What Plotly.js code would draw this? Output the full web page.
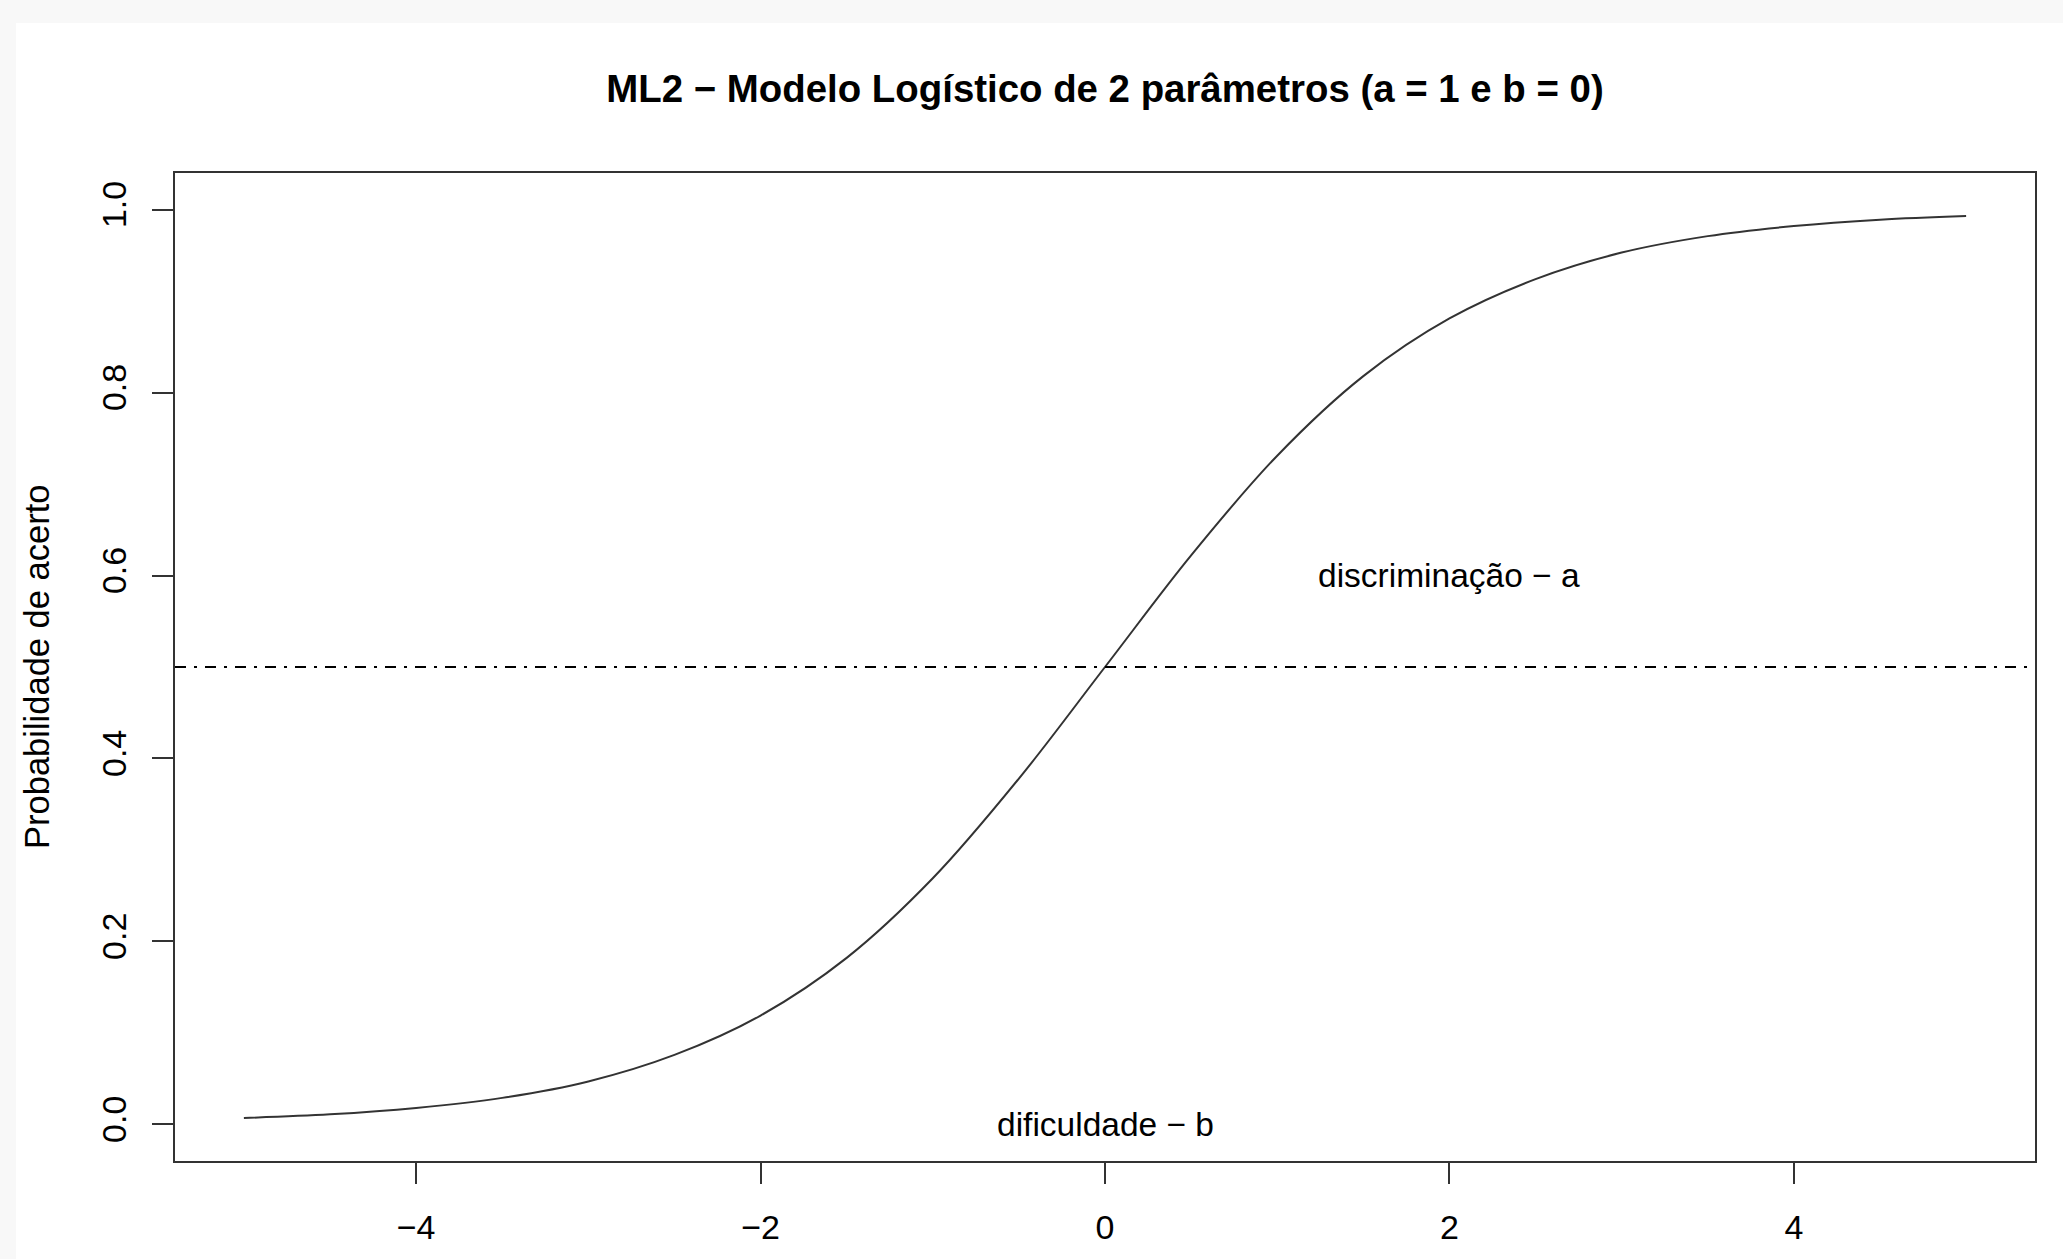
<!DOCTYPE html>
<html>
<head>
<meta charset="utf-8">
<script src="https://cdn.plot.ly/plotly-3.0.1.min.js"></script>
<style>
  html, body { margin: 0; padding: 0; background: #f8f8f8; width: 2063px; height: 1259px; overflow: hidden; }
  #chart { position: absolute; left: 16px; top: 23px; width: 2047px; height: 1236px; background: #ffffff; }
</style>
</head>
<body>
<div id="chart"></div>
<script>
// Values (theta vs. probability of a correct answer)
const theta = [-5, -4.5, -4, -3.5, -3, -2.5, -2, -1.5, -1, -0.5, 0, 0.5, 1, 1.5, 2, 2.5, 3, 3.5, 4, 4.5, 5];
const prob  = [0.007, 0.011, 0.018, 0.029, 0.047, 0.076, 0.119, 0.182, 0.269, 0.378, 0.500, 0.622, 0.731, 0.818, 0.881, 0.924, 0.953, 0.971, 0.982, 0.989, 0.993];

const refLineY = 0.5;
const xTicks = [-4, -2, 0, 2, 4];
const yTicks = [0, 0.2, 0.4, 0.6, 0.8, 1.0];
const yTickText = ["0.0", "0.2", "0.4", "0.6", "0.8", "1.0"];

const titleText = "ML2 \u2212 Modelo Log\u00edstico de 2 par\u00e2metros (a = 1 e b = 0)";
const yTitle = "Probabilidade de acerto";
const labels = [
  {x: 2, y: 0.6, text: "discrimina\u00e7\u00e3o \u2212 a"},
  {x: 0, y: 0.0, text: "dificuldade \u2212 b"}
];

const FONT = "Liberation Sans, Arial, Helvetica, sans-serif";
const INK = "#333333";

const traces = [
  {
    x: theta, y: prob, type: "scatter", mode: "lines",
    line: {color: INK, width: 2, shape: "spline", smoothing: 1},
    hoverinfo: "skip", showlegend: false
  }
];

const layout = {
  width: 2047, height: 1236,
  paper_bgcolor: "#ffffff", plot_bgcolor: "#ffffff",
  margin: {l: 159, r: 28, t: 150, b: 98},
  font: {family: FONT, size: 34, color: "#000000"},
  title: {
    text: "<b>" + titleText + "</b>",
    font: {family: FONT, size: 38.4, color: "#000000"},
    xref: "paper", x: 0.5, xanchor: "center",
    yref: "container", y: 1 - 66/1236, yanchor: "middle"
  },
  xaxis: {
    range: [-5.4, 5.4], tickmode: "array", tickvals: xTicks,
    showgrid: false, zeroline: false,
    showline: true, mirror: true, linecolor: INK, linewidth: 2,
    ticks: "outside", ticklen: 21, tickwidth: 2, tickcolor: INK,
    tickfont: {family: FONT, size: 34, color: "#000000"},
    ticklabelstandoff: 14
  },
  yaxis: {
    range: [-0.04, 1.04], tickmode: "array", tickvals: yTicks, ticktext: yTickText,
    showgrid: false, zeroline: false,
    showline: true, mirror: true, linecolor: INK, linewidth: 2,
    ticks: "outside", ticklen: 21, tickwidth: 2, tickcolor: INK,
    tickangle: -90,
    tickfont: {family: FONT, size: 34, color: "#000000"},
    ticklabelstandoff: 12
  },
  shapes: [
    {type: "line", xref: "paper", x0: 0, x1: 1, yref: "y", y0: refLineY, y1: refLineY,
     line: {color: "#000000", width: 2, dash: "11px,8px,3px,8px"}}
  ],
  annotations: labels.map(l => ({
    x: l.x, y: l.y, xref: "x", yref: "y", text: l.text, showarrow: false,
    xanchor: "center", yanchor: "middle",
    font: {family: FONT, size: 33.5, color: "#000000"}
  })).concat([{
    xref: "paper", yref: "paper", x: -0.0742, y: 0.5, text: yTitle, showarrow: false,
    textangle: -90, xanchor: "center", yanchor: "middle",
    font: {family: FONT, size: 34.5, color: "#000000"}
  }])
};

Plotly.newPlot("chart", traces, layout, {displayModeBar: false, staticPlot: true});
</script>
</body>
</html>
